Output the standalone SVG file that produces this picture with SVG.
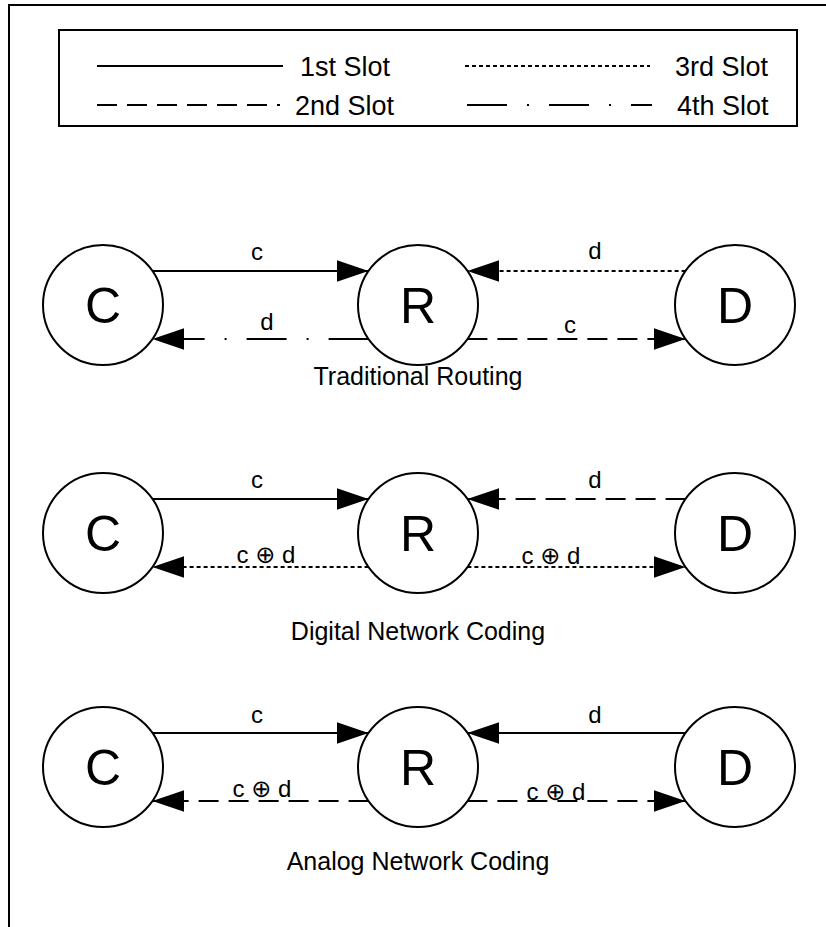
<svg xmlns="http://www.w3.org/2000/svg" width="826" height="927" viewBox="0 0 826 927">
  <defs>
    <marker id="arrow" markerWidth="32" markerHeight="22" refX="32" refY="11" orient="auto" markerUnits="userSpaceOnUse">
      <path d="M0,0 L32,11 L0,22 Z" fill="#000"/>
    </marker>
  </defs>
  <style>
    text { font-family: "Liberation Sans", Arial, "DejaVu Sans", sans-serif; fill: #000; }
    .frame { fill: none; stroke: #000; stroke-width: 2; }
    .node circle { fill: #fff; stroke: #000; stroke-width: 2; }
    .node text { font-size: 50px; text-anchor: middle; }
    .link { fill: none; stroke: #000; stroke-width: 2; }
    .arrow { marker-end: url(#arrow); }
    .s2 { stroke-dasharray: 20 10; }
    .s3 { stroke-dasharray: 4 3; }
    .s4 { stroke-dasharray: 40 20 2 20; }
    .lbl { font-size: 24px; text-anchor: middle; }
    .cap { font-size: 25px; text-anchor: middle; }
    .leg { font-size: 27px; }
  </style>

  <rect width="826" height="927" fill="#fff"/>
  <!-- outer frame (top and left edges) -->
  <path class="frame" d="M9,927 L9,5 L826,5"/>

  <!-- legend -->
  <g id="legend">
    <rect class="frame" x="59" y="30" width="738" height="96"/>
    <path class="link" d="M97,66 L283,66"/>
    <text class="leg" x="300" y="76">1st Slot</text>
    <path class="link s3" d="M465,66 L650,66"/>
    <text class="leg" x="675" y="76">3rd Slot</text>
    <path class="link s2" d="M97,105 L280,105"/>
    <text class="leg" x="295" y="115">2nd Slot</text>
    <path class="link s4" d="M467,105 L652,105"/>
    <text class="leg" x="677" y="115">4th Slot</text>
  </g>

  <!-- traditional routing -->
  <g id="C-routing" class="node"><circle cx="103" cy="305" r="60"/><text x="103" y="323">C</text></g>
  <g id="R-routing" class="node"><circle cx="418" cy="305" r="60"/><text x="418" y="323">R</text></g>
  <g id="D-routing" class="node"><circle cx="735" cy="305" r="60"/><text x="735" y="323">D</text></g>

  <!-- digital network coding -->
  <g id="C-digital" class="node"><circle cx="103" cy="533" r="60"/><text x="103" y="551">C</text></g>
  <g id="R-digital" class="node"><circle cx="418" cy="533" r="60"/><text x="418" y="551">R</text></g>
  <g id="D-digital" class="node"><circle cx="735" cy="533" r="60"/><text x="735" y="551">D</text></g>

  <!-- analog network coding -->
  <g id="C-analog" class="node"><circle cx="103" cy="767" r="60"/><text x="103" y="785">C</text></g>
  <g id="R-analog" class="node"><circle cx="418" cy="767" r="60"/><text x="418" y="785">R</text></g>
  <g id="D-analog" class="node"><circle cx="735" cy="767" r="60"/><text x="735" y="785">D</text></g>

  <g id="connectors">
    <!-- traditional routing -->
    <path class="link arrow" d="M152.4,271 L368.6,271"/>
    <path class="link arrow s4" d="M368.6,339 L152.4,339"/>
    <path class="link arrow s3" d="M685.6,271 L467.4,271"/>
    <path class="link arrow s2" d="M467.4,339 L685.6,339"/>
    <!-- digital network coding -->
    <path class="link arrow" d="M152.4,499 L368.6,499"/>
    <path class="link arrow s3" d="M368.6,567 L152.4,567"/>
    <path class="link arrow s2" d="M685.6,499 L467.4,499"/>
    <path class="link arrow s3" d="M467.4,567 L685.6,567"/>
    <!-- analog network coding -->
    <path class="link arrow" d="M152.4,733 L368.6,733"/>
    <path class="link arrow s2" d="M368.6,801 L152.4,801"/>
    <path class="link arrow" d="M685.6,733 L467.4,733"/>
    <path class="link arrow s2" d="M467.4,801 L685.6,801"/>
  </g>

  <g id="labels">
    <text class="lbl" x="257" y="260">c</text>
    <text class="lbl" x="267" y="330">d</text>
    <text class="lbl" x="595" y="259">d</text>
    <text class="lbl" x="570" y="333">c</text>

    <text class="lbl" x="257" y="488">c</text>
    <text class="lbl" x="266" y="563">c ⊕ d</text>
    <text class="lbl" x="595" y="488">d</text>
    <text class="lbl" x="551" y="564">c ⊕ d</text>

    <text class="lbl" x="257" y="723">c</text>
    <text class="lbl" x="262" y="797">c ⊕ d</text>
    <text class="lbl" x="595" y="723">d</text>
    <text class="lbl" x="556" y="800">c ⊕ d</text>
  </g>

  <g id="captions">
    <text class="cap" x="418" y="385">Traditional Routing</text>
    <text class="cap" x="418" y="640">Digital Network Coding</text>
    <text class="cap" x="418" y="870">Analog Network Coding</text>
  </g>
</svg>
